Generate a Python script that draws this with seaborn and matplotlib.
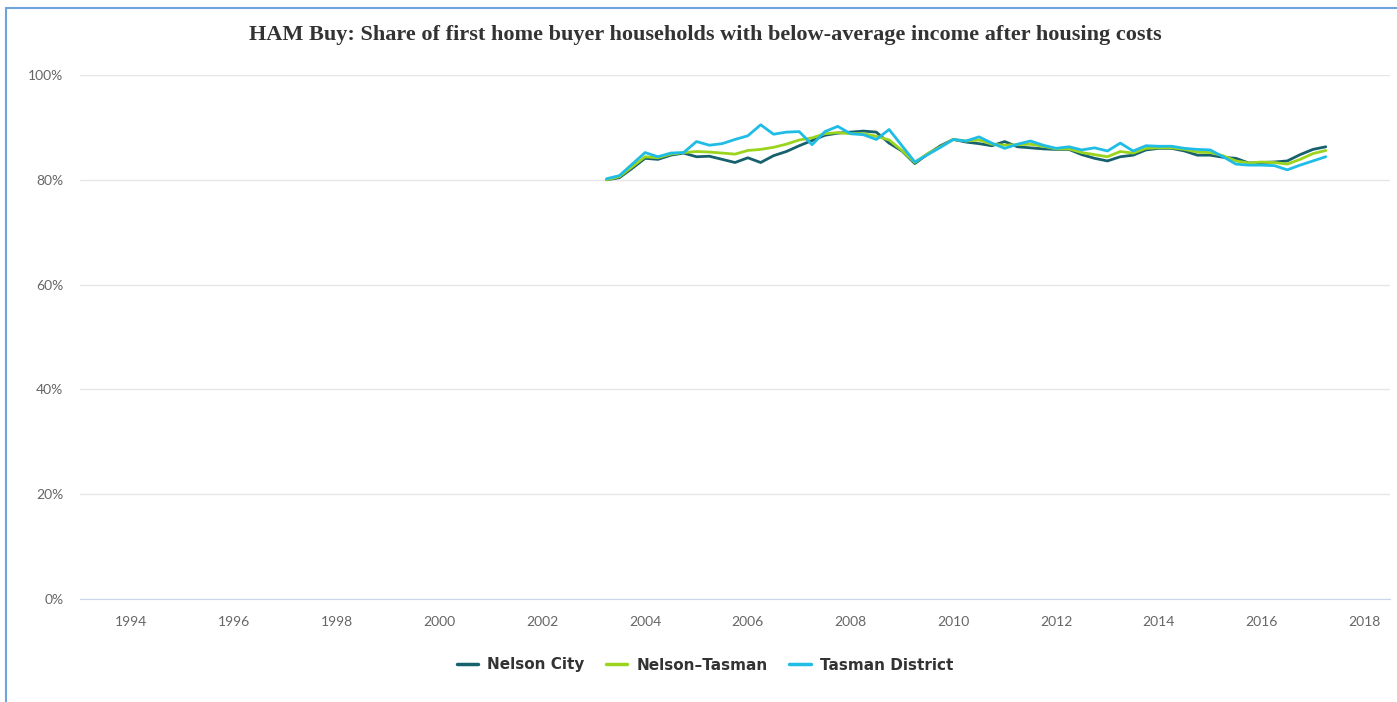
import numpy as np
import pandas as pd
import seaborn as sns
import matplotlib.pyplot as plt
from matplotlib.lines import Line2D

# quarterly series, 2003 Q2 onwards
start_year = 2003.25
nelson_city = [80.0, 80.4, 82.2, 84.1, 83.9, 84.7, 85.1, 84.4, 84.5, 83.9,
               83.3, 84.2, 83.3, 84.6, 85.4, 86.5, 87.5, 88.5, 88.9, 89.1,
               89.3, 89.1, 87.0, 85.5, 83.1, 84.9, 86.5, 87.7, 87.2, 86.9,
               86.5, 87.3, 86.3, 86.1, 85.9, 85.8, 85.8, 84.8, 84.1, 83.6,
               84.4, 84.7, 85.7, 86.0, 86.0, 85.5, 84.7, 84.7, 84.3, 84.1,
               83.2, 83.3, 83.4, 83.6, 84.8, 85.8, 86.3]
nelson_tasman = [80.0, 80.6, 82.5, 84.4, 84.2, 84.9, 85.2, 85.4, 85.3, 85.1,
                 84.9, 85.6, 85.8, 86.2, 86.8, 87.6, 88.0, 88.8, 89.0, 88.8,
                 88.8, 88.3, 87.6, 85.6, 83.3, 85.0, 86.3, 87.7, 87.4, 87.6,
                 86.8, 86.6, 86.7, 86.8, 86.4, 85.9, 85.9, 85.2, 84.8, 84.4,
                 85.4, 85.1, 86.0, 86.1, 86.1, 85.8, 85.3, 85.2, 84.6, 83.6,
                 83.2, 83.4, 83.3, 83.0, 83.9, 85.0, 85.6]
tasman_district = [80.2, 80.8, 83.0, 85.2, 84.4, 85.1, 85.2, 87.3, 86.6, 86.9,
                   87.7, 88.4, 90.5, 88.7, 89.1, 89.2, 86.7, 89.2, 90.2, 88.8,
                   88.6, 87.7, 89.6, 86.5, 83.4, 84.8, 86.2, 87.7, 87.4, 88.2,
                   87.0, 86.0, 86.8, 87.4, 86.6, 86.0, 86.3, 85.7, 86.1, 85.5,
                   87.0, 85.5, 86.5, 86.4, 86.4, 86.0, 85.8, 85.7, 84.4, 83.0,
                   82.8, 82.8, 82.7, 81.9, 82.8, 83.6, 84.4]

series_names = ["Nelson City", "Nelson\u2013Tasman", "Tasman District"]
colors = ["#17606e", "#9bd41c", "#1fbce6"]
year_ticks = list(range(1994, 2019, 2))
pct_ticks = [0, 20, 40, 60, 80, 100]

quarters = start_year + 0.25 * np.arange(len(nelson_city))
df = pd.DataFrame({
    "year": np.tile(quarters, 3),
    "share": nelson_city + nelson_tasman + tasman_district,
    "area": np.repeat(series_names, len(quarters)),
})

sns.set_style("white")
fig = plt.figure(figsize=(13.97, 7.02), dpi=100)
ax = fig.add_axes([80 / 1397, 1 - 599 / 702, 1310 / 1397, 524 / 702])

sns.lineplot(data=df, x="year", y="share", hue="area", hue_order=series_names,
             palette=colors, linewidth=2, ax=ax, legend=False)

ax.set_xlim(1993, 2018.5)
ax.set_ylim(0, 100)
ax.set_xticks(year_ticks)
ax.set_xticklabels([str(y) for y in year_ticks])
ax.set_yticks(pct_ticks)
ax.set_yticklabels([f"{p}%" for p in pct_ticks])
ax.set_xlabel("")
ax.set_ylabel("")
ax.grid(axis="y", color="#e6e6e6", linewidth=1)
ax.grid(axis="x", visible=False)
for side in ["top", "right", "left"]:
    ax.spines[side].set_visible(False)
ax.spines["bottom"].set_color("#ccd6eb")
ax.tick_params(axis="x", colors="#ccd6eb", length=6, width=1, direction="out",
               labelcolor="#666666", labelsize=10, pad=6)
ax.tick_params(axis="y", length=0, labelcolor="#666666", labelsize=10, pad=12)
for lab in ax.get_xticklabels() + ax.get_yticklabels():
    lab.set_fontfamily("Lato")

fig.text(705 / 1397, 1 - 35 / 702,
         "HAM Buy: Share of first home buyer households with below-average income after housing costs",
         ha="center", va="center", fontsize=16, fontweight="bold",
         family="Liberation Serif", color="#333333")

handles = [Line2D([], [], color=c, linewidth=2.5) for c in colors]
leg = fig.legend(handles, series_names, loc="center", bbox_to_anchor=(705 / 1397, 1 - 665 / 702),
                 ncol=3, frameon=False, handlelength=1.4, columnspacing=1.4, handletextpad=0.6,
                 prop={"family": "DejaVu Sans", "weight": "bold", "size": 11})
for t in leg.get_texts():
    t.set_color("#333333")

# outer frame (left and top edges only, like the cropped screenshot)
frame_x = 6 / 1397
frame_y = 1 - 8 / 702
fig.add_artist(Line2D([frame_x, frame_x], [0, frame_y], transform=fig.transFigure,
                      color="#6fa3dc", linewidth=1.5))
fig.add_artist(Line2D([frame_x, 1], [frame_y, frame_y], transform=fig.transFigure,
                      color="#6fa3dc", linewidth=1.5))

fig.savefig("out.png", dpi=100)
